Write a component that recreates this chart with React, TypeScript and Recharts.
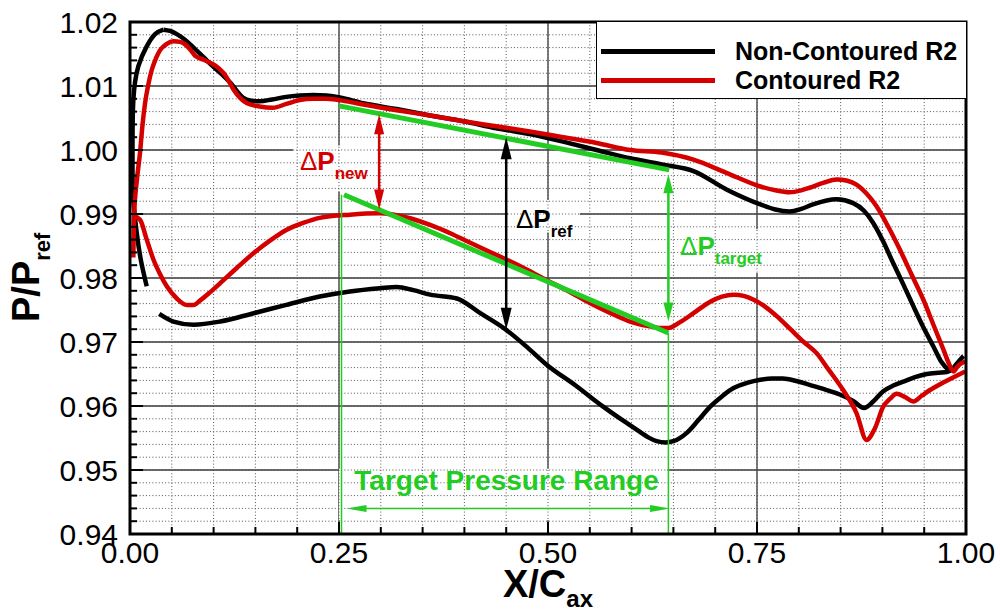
import React from 'react';
import {
  ComposedChart,
  Line,
  XAxis,
  YAxis,
  CartesianGrid,
  ReferenceLine,
  ReferenceArea,
  ReferenceDot,
  Legend,
} from 'recharts';

const FONT = '"Liberation Sans", Arial, Helvetica, sans-serif';
const BLACK = '#000000';
const RED = '#d40000';
const GREEN = '#22cc22';

// axis ticks
const xMajorTicks = [0, 0.25, 0.5, 0.75, 1];
const xMinorTicks = [
  0, 0.05, 0.1, 0.15, 0.2, 0.25, 0.3, 0.35, 0.4, 0.45, 0.5,
  0.55, 0.6, 0.65, 0.7, 0.75, 0.8, 0.85, 0.9, 0.95, 1,
];
const yMajorTicks = [0.94, 0.95, 0.96, 0.97, 0.98, 0.99, 1.0, 1.01, 1.02];
const yMinorTicks = [
  0.94, 0.942, 0.944, 0.946, 0.948, 0.95, 0.952, 0.954, 0.956, 0.958,
  0.96, 0.962, 0.964, 0.966, 0.968, 0.97, 0.972, 0.974, 0.976, 0.978,
  0.98, 0.982, 0.984, 0.986, 0.988, 0.99, 0.992, 0.994, 0.996, 0.998,
  1.0, 1.002, 1.004, 1.006, 1.008, 1.01, 1.012, 1.014, 1.016, 1.018, 1.02,
];
const xGridMajor = [0.25, 0.5, 0.75];
const yGridMajor = [0.95, 0.96, 0.97, 0.98, 0.99, 1.0, 1.01];

// Non-Contoured R2 (black)
const blackLeadingEdge = [
  [0.020, 0.9787], [0.013, 0.9828], [0.008, 0.9871], [0.004, 0.9922], [0.003, 0.996],
  [0.003, 1.0], [0.004, 1.0078], [0.010, 1.0131], [0.020, 1.0162], [0.030, 1.0181], [0.040, 1.0188],
];
const blackUpper = [
  [0.040, 1.0188], [0.048, 1.0186], [0.056, 1.0181], [0.066, 1.0172], [0.076, 1.016],
  [0.088, 1.0145], [0.099, 1.0131], [0.110, 1.0118], [0.120, 1.0105], [0.128, 1.0092],
  [0.135, 1.0082], [0.145, 1.0077], [0.155, 1.0076], [0.170, 1.0079], [0.187, 1.0083],
  [0.203, 1.0085], [0.219, 1.0086], [0.235, 1.0085], [0.251, 1.0082], [0.279, 1.0073],
  [0.319, 1.0064], [0.359, 1.0054], [0.399, 1.0045], [0.438, 1.0034], [0.478, 1.0025],
  [0.518, 1.0013], [0.558, 1.0], [0.598, 0.9987], [0.638, 0.9977], [0.674, 0.9967],
  [0.714, 0.9938], [0.754, 0.9915], [0.772, 0.9907], [0.789, 0.9904], [0.803, 0.9908],
  [0.817, 0.9915], [0.845, 0.9923], [0.865, 0.9917], [0.878, 0.9905], [0.889, 0.9886],
  [0.901, 0.9857], [0.913, 0.9823], [0.925, 0.979], [0.937, 0.9756], [0.949, 0.9723],
  [0.961, 0.9693], [0.970, 0.967], [0.981, 0.9654],
];
const blackLower = [
  [0.035, 0.9744], [0.052, 0.9732], [0.076, 0.9727], [0.108, 0.9732], [0.148, 0.9745],
  [0.187, 0.9758], [0.227, 0.9771], [0.263, 0.9779], [0.299, 0.9784], [0.319, 0.9786],
  [0.339, 0.9781], [0.359, 0.9774], [0.391, 0.9768], [0.419, 0.9745], [0.450, 0.9719],
  [0.475, 0.9692], [0.498, 0.9665], [0.533, 0.9632], [0.566, 0.9599], [0.590, 0.9577],
  [0.606, 0.9563], [0.620, 0.9551], [0.630, 0.9545], [0.641, 0.9543], [0.650, 0.9545],
  [0.666, 0.9558], [0.680, 0.9578], [0.694, 0.9599], [0.708, 0.9615], [0.722, 0.9628],
  [0.738, 0.9636], [0.754, 0.9641], [0.768, 0.9643], [0.781, 0.9643], [0.797, 0.9639],
  [0.813, 0.9633], [0.831, 0.9626], [0.849, 0.9618], [0.865, 0.9608], [0.878, 0.9597],
  [0.889, 0.9607], [0.901, 0.9623], [0.913, 0.9632], [0.925, 0.9638], [0.939, 0.9645],
  [0.953, 0.965], [0.967, 0.9652], [0.977, 0.9653], [0.984, 0.9658], [0.989, 0.9666],
  [0.997, 0.9678],
];

// Contoured R2 (red)
const redUpper = [
  [0.004, 0.9832], [0.005, 0.99], [0.008, 0.995], [0.012, 0.9996], [0.015, 1.004],
  [0.018, 1.0073], [0.022, 1.0103], [0.026, 1.0125], [0.031, 1.0143], [0.036, 1.0156],
  [0.044, 1.0166], [0.052, 1.017], [0.060, 1.0169], [0.066, 1.0165], [0.072, 1.0157],
  [0.078, 1.0147], [0.088, 1.0141], [0.098, 1.0135], [0.106, 1.0128], [0.112, 1.012],
  [0.118, 1.0108], [0.124, 1.0094], [0.132, 1.0081], [0.140, 1.0073], [0.155, 1.0068],
  [0.171, 1.0066], [0.187, 1.0072], [0.203, 1.0078], [0.219, 1.008], [0.235, 1.008],
  [0.259, 1.0076], [0.279, 1.0071], [0.319, 1.0062], [0.359, 1.0054], [0.399, 1.0045],
  [0.438, 1.0037], [0.478, 1.0029], [0.518, 1.002], [0.558, 1.0011], [0.598, 1.0],
  [0.636, 0.9996], [0.674, 0.9985], [0.714, 0.9964], [0.754, 0.9943], [0.772, 0.9937],
  [0.789, 0.9934], [0.803, 0.9937], [0.813, 0.9941], [0.830, 0.9949], [0.845, 0.9954],
  [0.858, 0.9952], [0.869, 0.9946], [0.881, 0.9932], [0.893, 0.9912], [0.907, 0.988],
  [0.921, 0.9844], [0.935, 0.9805], [0.949, 0.9766], [0.961, 0.9727], [0.973, 0.9688],
  [0.980, 0.9665], [0.985, 0.9654], [0.990, 0.9662], [0.999, 0.967],
];
const redLower = [
  [0.004, 0.9897], [0.012, 0.9891], [0.020, 0.986], [0.028, 0.9829], [0.036, 0.9806],
  [0.044, 0.9787], [0.056, 0.9768], [0.068, 0.9758], [0.076, 0.9758], [0.084, 0.9765],
  [0.096, 0.9778], [0.108, 0.9792], [0.128, 0.9816], [0.148, 0.9839], [0.167, 0.9858],
  [0.187, 0.9875], [0.207, 0.9886], [0.227, 0.9894], [0.263, 0.9899], [0.299, 0.9901],
  [0.330, 0.9895], [0.359, 0.9883], [0.383, 0.987], [0.407, 0.9855], [0.430, 0.9841],
  [0.450, 0.9829], [0.475, 0.9813], [0.498, 0.9797], [0.525, 0.9779], [0.550, 0.9761],
  [0.575, 0.9745], [0.598, 0.9732], [0.620, 0.9725], [0.634, 0.9722], [0.644, 0.9722],
  [0.658, 0.9731], [0.674, 0.9745], [0.694, 0.9763], [0.708, 0.9771], [0.722, 0.9774],
  [0.734, 0.9772], [0.746, 0.9766], [0.760, 0.9755], [0.774, 0.974], [0.790, 0.972],
  [0.806, 0.97], [0.821, 0.9683], [0.835, 0.9658], [0.853, 0.9625], [0.869, 0.9589],
  [0.881, 0.9547], [0.891, 0.9565], [0.901, 0.9599], [0.909, 0.9611], [0.917, 0.9619],
  [0.927, 0.9614], [0.937, 0.9607], [0.947, 0.9616], [0.957, 0.9625], [0.969, 0.9634],
  [0.981, 0.9642], [0.999, 0.9654],
];

// annotations (data coordinates)
const targetUpper = [[0.25, 1.0069], [0.645, 0.9969]];
const targetLower = [[0.256, 0.993], [0.644, 0.9714]];
const rangeLeft = [[0.253, 0.993], [0.253, 0.94]];
const rangeRight = [[0.644, 0.9714], [0.644, 0.94]];
const arrowNew = [[0.298, 1.0056], [0.298, 0.9907]];
const arrowRef = [[0.45, 1.002], [0.45, 0.9719]];
const arrowTarget = [[0.644, 0.9962], [0.644, 0.9732]];
const arrowRange = [[0.259, 0.944], [0.646, 0.944]];

// white label backgrounds [x1, x2, y1, y2]
const labelBoxes = [
  [0.195, 0.296, 0.9935, 1.0007],
  [0.452, 0.538, 0.9871, 0.9922],
  [0.646, 0.763, 0.9808, 0.9876],
  [0.25, 0.643, 0.9422, 0.9502],
];

const legendEntries = [
  { name: 'Non-Contoured R2', color: BLACK },
  { name: 'Contoured R2', color: RED },
];

const toPts = (arr: number[][]) => arr.map(([x, y]) => ({ x, y }));
const toSeg = (arr: number[][]) => arr.map(([x, y]) => ({ x, y }));
const isMajor = (v: number, list: number[]) => list.some((t) => Math.abs(t - v) < 1e-7);

const renderXTick = (props: any) => {
  const { x, y, payload } = props;
  const major = isMajor(payload.value, xMajorTicks);
  return (
    <g>
      <line x1={x} y1={y} x2={x} y2={y - (major ? 12 : 7)} stroke={BLACK} strokeWidth={2} />
      {major && (
        <text x={x} y={y + 29} textAnchor="middle" fontFamily={FONT} fontSize={30} fill={BLACK}>
          {Number(payload.value).toFixed(2)}
        </text>
      )}
    </g>
  );
};

const renderYTick = (props: any) => {
  const { x, y, payload } = props;
  const major = isMajor(payload.value, yMajorTicks);
  return (
    <g>
      <line x1={x} y1={y} x2={x + (major ? 13 : 7)} y2={y} stroke={BLACK} strokeWidth={2} />
      {major && (
        <text x={x - 12} y={y + 11} textAnchor="end" fontFamily={FONT} fontSize={30} fill={BLACK}>
          {Number(payload.value).toFixed(2)}
        </text>
      )}
    </g>
  );
};

const renderXLabel = (props: any) => {
  const vb = props.viewBox || {};
  const cx = vb.x + vb.width / 2;
  return (
    <text x={cx} y={vb.y + 63} textAnchor="middle" fontFamily={FONT} fontWeight="bold" fill={BLACK}>
      <tspan fontSize={38}>X/C</tspan>
      <tspan fontSize={24} dy={10}>ax</tspan>
    </text>
  );
};

const renderYLabel = (props: any) => {
  const vb = props.viewBox || {};
  const x = vb.x + 39;
  const y = vb.y + vb.height / 2 + 44;
  return (
    <text x={x} y={y} transform={`rotate(-90, ${x}, ${y})`} fontFamily={FONT} fontWeight="bold" fill={BLACK}>
      <tspan fontSize={38}>P/P</tspan>
      <tspan fontSize={22} dy={11}>ref</tspan>
    </text>
  );
};

const deltaLabel = (sub: string, color: string) => (p: any) => (
  <text x={p.cx} y={p.cy} fill={color} fontFamily={FONT}>
    <tspan fontSize={26}>Δ</tspan>
    <tspan fontSize={26} fontWeight="bold">P</tspan>
    <tspan fontSize={17} fontWeight="bold" dy={9}>{sub}</tspan>
  </text>
);

const rangeLabel = (p: any) => (
  <text x={p.cx} y={p.cy} fill={GREEN} fontFamily={FONT} fontSize={28} fontWeight="bold" textAnchor="middle">
    Target Pressure Range
  </text>
);

// double-headed arrow drawn from the reference line end points
const arrowShape = (color: string, width: number, headLen: number, headHalf: number) => (p: any) => {
  const x1 = Number(p.x1), y1 = Number(p.y1), x2 = Number(p.x2), y2 = Number(p.y2);
  const len = Math.hypot(x2 - x1, y2 - y1) || 1;
  const ux = (x2 - x1) / len, uy = (y2 - y1) / len;
  const nx = -uy, ny = ux;
  const head = (tx: number, ty: number, dx: number, dy: number) =>
    `${tx},${ty} ${tx - dx * headLen + nx * headHalf},${ty - dy * headLen + ny * headHalf} ${tx - dx * headLen - nx * headHalf},${ty - dy * headLen - ny * headHalf}`;
  return (
    <g>
      <line
        x1={x1 + ux * headLen * 0.7}
        y1={y1 + uy * headLen * 0.7}
        x2={x2 - ux * headLen * 0.7}
        y2={y2 - uy * headLen * 0.7}
        stroke={color}
        strokeWidth={width}
      />
      <polygon points={head(x2, y2, ux, uy)} fill={color} />
      <polygon points={head(x1, y1, -ux, -uy)} fill={color} />
    </g>
  );
};

const renderLegend = () => (
  <div
    style={{
      width: 370,
      height: 77,
      boxSizing: 'border-box',
      background: '#ffffff',
      borderLeft: '1.5px solid #000',
      borderBottom: '1.5px solid #000',
      paddingTop: 15,
      fontFamily: FONT,
      fontWeight: 'bold',
      fontSize: 25,
      color: BLACK,
    }}
  >
    {legendEntries.map((e) => (
      <div key={e.name} style={{ display: 'flex', alignItems: 'center', height: 29.3 }}>
        <span style={{ display: 'inline-block', width: 114, height: 5, marginLeft: 4, marginRight: 20, background: e.color }} />
        <span>{e.name}</span>
      </div>
    ))}
  </div>
);

export default function App() {
  return (
    <>
      <style>{'body { margin: 0; }'}</style>
      <div style={{ width: 1000, height: 609, background: '#fff', position: 'relative' }}>
        <ComposedChart width={1000} height={609} margin={{ top: 22, right: 34, bottom: 0, left: 0 }}>
          <CartesianGrid
            zIndex={-100}
            stroke="#3a3a3a"
            strokeWidth={1.3}
            verticalValues={xGridMajor}
            horizontalValues={yGridMajor}
          />
          {labelBoxes.map(([x1, x2, y1, y2], i) => (
            <ReferenceArea
              key={`box${i}`}
              zIndex={-95}
              x1={x1}
              x2={x2}
              y1={y1}
              y2={y2}
              fill="#ffffff"
              fillOpacity={1}
              stroke="none"
              ifOverflow="visible"
            />
          ))}
          <CartesianGrid zIndex={-90} stroke="#555" strokeWidth={1} strokeDasharray="1 2.2" />

          <Line data={toPts(blackLeadingEdge)} dataKey="y" type="natural" stroke={BLACK} strokeWidth={4.5} dot={false} activeDot={false} isAnimationActive={false} legendType="none" />
          <Line data={toPts(blackUpper)} dataKey="y" type="monotone" stroke={BLACK} strokeWidth={4.5} dot={false} activeDot={false} isAnimationActive={false} name="Non-Contoured R2" />
          <Line data={toPts(blackLower)} dataKey="y" type="monotone" stroke={BLACK} strokeWidth={4.5} dot={false} activeDot={false} isAnimationActive={false} legendType="none" />
          <Line data={toPts(redUpper)} dataKey="y" type="monotone" stroke={RED} strokeWidth={4.5} dot={false} activeDot={false} isAnimationActive={false} name="Contoured R2" />
          <Line data={toPts(redLower)} dataKey="y" type="monotone" stroke={RED} strokeWidth={4.5} dot={false} activeDot={false} isAnimationActive={false} legendType="none" />

          <ReferenceLine zIndex={450} segment={toSeg(rangeLeft)} stroke={GREEN} strokeWidth={1.5} ifOverflow="visible" />
          <ReferenceLine zIndex={450} segment={toSeg(rangeRight)} stroke={GREEN} strokeWidth={1.5} ifOverflow="visible" />
          <ReferenceLine zIndex={450} segment={toSeg(targetUpper)} stroke={GREEN} strokeWidth={5} ifOverflow="visible" />
          <ReferenceLine zIndex={450} segment={toSeg(targetLower)} stroke={GREEN} strokeWidth={5} ifOverflow="visible" />
          <ReferenceLine zIndex={450} segment={toSeg(arrowNew)} ifOverflow="visible" shape={arrowShape(RED, 2.5, 20, 5)} />
          <ReferenceLine zIndex={450} segment={toSeg(arrowRef)} ifOverflow="visible" shape={arrowShape(BLACK, 2.5, 22, 5.5)} />
          <ReferenceLine zIndex={450} segment={toSeg(arrowTarget)} ifOverflow="visible" shape={arrowShape(GREEN, 2.5, 19, 5)} />
          <ReferenceLine zIndex={450} segment={toSeg(arrowRange)} ifOverflow="visible" shape={arrowShape(GREEN, 1.5, 20, 3.5)} />

          <ReferenceDot zIndex={460} x={0.2033} y={0.99692} ifOverflow="visible" shape={deltaLabel('new', RED)} />
          <ReferenceDot zIndex={460} x={0.4617} y={0.98786} ifOverflow="visible" shape={deltaLabel('ref', BLACK)} />
          <ReferenceDot zIndex={460} x={0.6579} y={0.98364} ifOverflow="visible" shape={deltaLabel('target', GREEN)} />
          <ReferenceDot zIndex={460} x={0.4504} y={0.94692} ifOverflow="visible" shape={rangeLabel} />

          <ReferenceArea
            zIndex={470}
            x1={0}
            x2={1}
            y1={0.94}
            y2={1.02}
            fill="none"
            stroke={BLACK}
            strokeWidth={3}
            ifOverflow="visible"
          />

          <XAxis
            type="number"
            dataKey="x"
            domain={[0, 1]}
            allowDataOverflow
            ticks={xMinorTicks}
            interval={0}
            tickSize={0}
            tickMargin={0}
            tickLine={false}
            axisLine={false}
            height={75}
            tick={renderXTick}
            label={renderXLabel}
          />
          <YAxis
            type="number"
            domain={[0.94, 1.02]}
            allowDataOverflow
            ticks={yMinorTicks}
            interval={0}
            tickSize={0}
            tickMargin={0}
            tickLine={false}
            axisLine={false}
            width={130}
            tick={renderYTick}
            label={renderYLabel}
          />
          <Legend
            layout="vertical"
            align="center"
            verticalAlign="middle"
            content={renderLegend}
            wrapperStyle={{ left: 596, top: 22, width: 370, height: 77 }}
          />
        </ComposedChart>
      </div>
    </>
  );
}
